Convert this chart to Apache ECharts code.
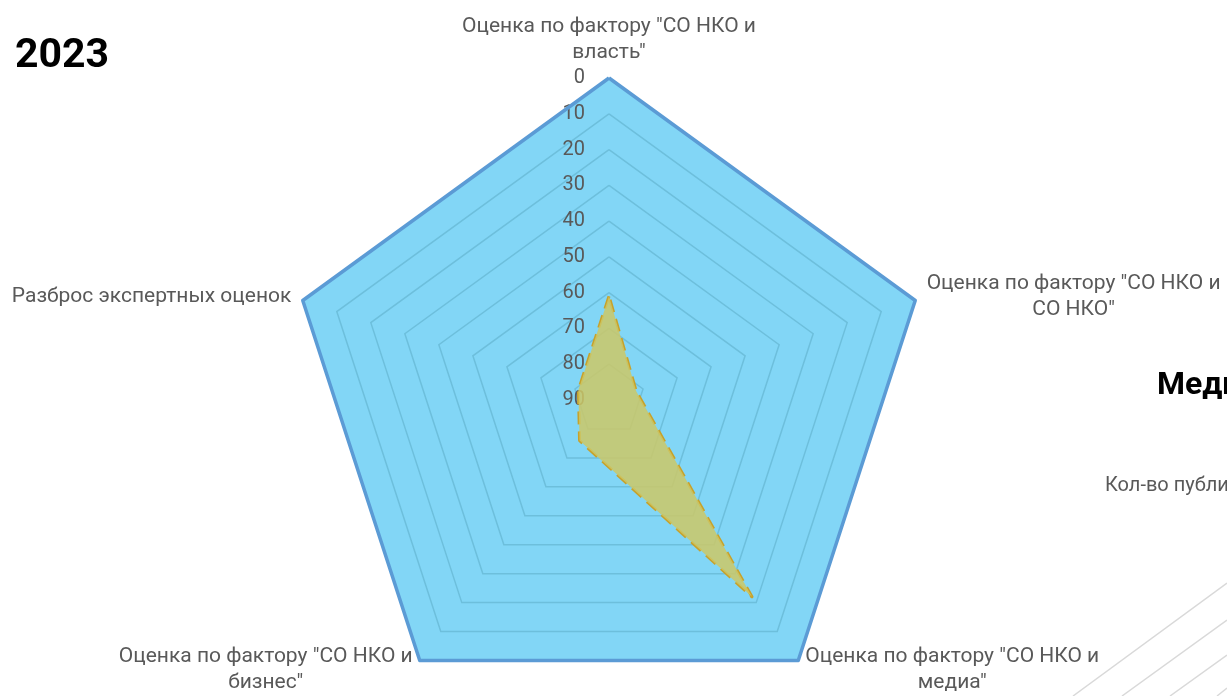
<!DOCTYPE html>
<html><head><meta charset="utf-8">
<script src="https://cdn.jsdelivr.net/npm/echarts@6/dist/echarts.min.js"></script>
<style>html,body{margin:0;padding:0;background:#fff}#c{width:1227px;height:696px}</style>
</head><body><div id="c"></div>
<script>
// Indicators listed counter-clockwise starting at the top (ECharts order)
const indicatorNames = [
  'Оценка по фактору "СО НКО и\nвласть"',
  'Разброс экспертных оценок',
  'Оценка по фактору "СО НКО и\nбизнес"',
  'Оценка по фактору "СО НКО и\nмедиа"',
  'Оценка по фактору "СО НКО и\nСО НКО"'
];
// Values as read on the (reversed) axis: 0 at the rim, 90 at the centre
const scoreValues = [61, 81, 76, 22, 82];
const outerValues = [0, 0, 0, 0, 0];
const axisMin = 0;
const axisMax = 90;
const tickStep = 10;
const titleText = '2023';

// Radar indicators cannot be inverted in ECharts, so the axis is reversed
// by mapping value -> axisMax - value, and labels show the reversed value.
const reverseAxis = v => axisMax - v;

const FONT = 'Roboto';
const chart = echarts.init(document.getElementById('c'));
const indicators = indicatorNames.map((n, i) => {
  const o = { name: n, min: axisMin, max: axisMax };
  if (i === 0) o.axisLabel = { show: true };
  return o;
});
chart.setOption({
  animation: false,
  backgroundColor: '#ffffff',
  title: {
    text: titleText, left: 10, top: 31,
    textStyle: { fontFamily: FONT, fontSize: 41, fontWeight: 'bold', color: '#000' }
  },
  radar: {
    center: [609, 400],
    radius: 322,
    startAngle: 90,
    splitNumber: (axisMax - axisMin) / tickStep,
    shape: 'polygon',
    nameGap: 12,
    indicator: indicators,
    axisName: {
      color: '#595959',
      fontFamily: FONT,
      fontSize: 21,
      formatter: (name) => name.split('\n').map(l => '{a|' + l + '}').join('\n'),
      rich: { a: { align: 'center', fontFamily: FONT, fontSize: 21, color: '#595959', lineHeight: 26 } }
    },
    axisLine: { show: false },
    axisTick: { show: false },
    axisLabel: { show: false, color: '#595959', fontFamily: FONT, fontSize: 20, margin: 24,
                 formatter: v => String(reverseAxis(v)) },
    splitLine: { lineStyle: { color: '#6DBFDC', width: 1.5 } },
    splitArea: { show: true, areaStyle: { color: ['#82D6F6'], opacity: 1 } }
  },
  series: [{
    type: 'radar',
    symbol: 'none',
    silent: true,
    data: [
      { value: outerValues.map(reverseAxis), name: 'outer', lineStyle: { color: '#5B9BD5', width: 3.5 } },
      { value: scoreValues.map(reverseAxis), name: 'score',
        lineStyle: { color: '#C6A22C', width: 3, type: [13, 7] },
        areaStyle: { color: 'rgba(204,200,102,0.85)', opacity: 1 } }
    ]
  }],
  graphic: [
    { type: 'text', left: 1157, top: 370, style: { text: 'Медиа', font: 'bold 32px ' + FONT, fill: '#000' } },
    { type: 'text', left: 1105, top: 476, style: { text: 'Кол-во публикаций', font: '20px ' + FONT, fill: '#595959' } },
    { type: 'line', shape: { x1: 1073, y1: 696, x2: 1227, y2: 583 }, style: { stroke: '#D9D9D9', lineWidth: 1.5 } },
    { type: 'line', shape: { x1: 1122, y1: 696, x2: 1227, y2: 620 }, style: { stroke: '#D9D9D9', lineWidth: 1.5 } },
    { type: 'line', shape: { x1: 1170, y1: 696, x2: 1227, y2: 655 }, style: { stroke: '#D9D9D9', lineWidth: 1.5 } },
    { type: 'line', shape: { x1: 1217, y1: 696, x2: 1227, y2: 688 }, style: { stroke: '#D9D9D9', lineWidth: 1.5 } }
  ]
});
</script></body></html>
